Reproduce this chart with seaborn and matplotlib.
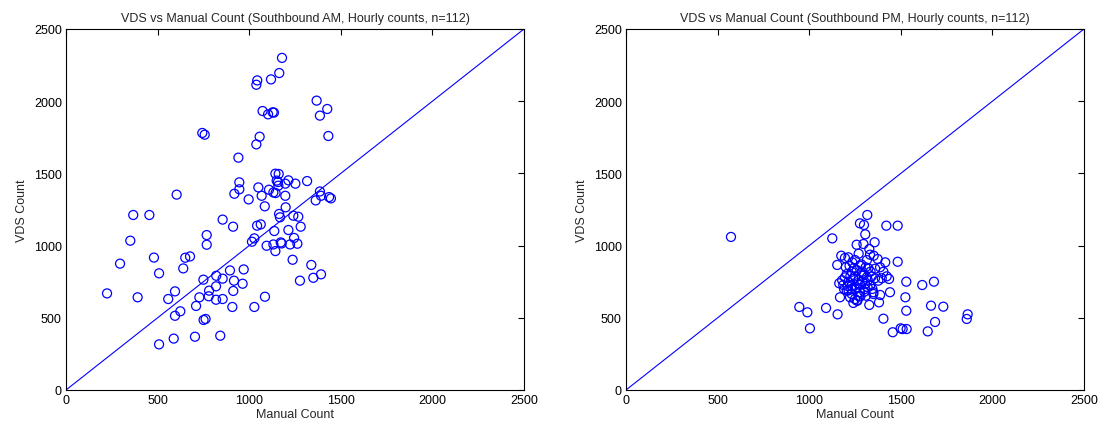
import matplotlib
matplotlib.use("Agg")
import matplotlib.pyplot as plt
import seaborn as sns
import pandas as pd

sns.set_theme(style="white")
plt.rcParams['font.family'] = ['Liberation Sans', 'DejaVu Sans']

titles = ["VDS vs Manual Count (Southbound AM, Hourly counts, n=112)",
          "VDS vs Manual Count (Southbound PM, Hourly counts, n=112)"]
xlabel = "Manual Count"
ylabel = "VDS Count"
ticks = [0, 500, 1000, 1500, 2000, 2500]
diag = [0, 2500]

am_manual = [1179, 1164, 1119, 1044, 1039, 1073, 1103, 1128, 1135, 744, 757, 1057, 1039, 941,
             1143, 1161, 946, 919, 946, 1050, 1068, 997, 1085, 604, 367, 455, 855, 1108, 1132,
             1144, 1157, 1159, 1197, 1197, 1214, 1252, 1316, 1199, 1163, 1168, 1241, 1268, 1281,
             1368, 1426, 1386, 1432, 1386, 1363, 1392, 1436, 1446, 351, 295, 480, 508, 224, 391,
             640, 651, 677, 558, 595, 595, 624, 508, 588, 704, 842, 751, 762, 710, 728, 779, 781,
             819, 819, 855, 750, 820, 855, 895, 917, 913, 964, 970, 908, 1028, 1086, 768, 768,
             912, 1015, 1028, 1043, 1063, 1137, 1095, 1132, 1143, 1172, 1177, 1223, 1263, 1237,
             1277, 1245, 1214, 1339, 1350, 1392, 1150]
am_vds = [2300, 2195, 2151, 2144, 2114, 1932, 1909, 1923, 1921, 1780, 1768, 1754, 1701, 1609,
          1498, 1496, 1438, 1359, 1390, 1403, 1345, 1320, 1272, 1353, 1212, 1212, 1180, 1387, 1368,
          1364, 1440, 1415, 1345, 1429, 1452, 1429, 1447, 1265, 1219, 1196, 1207, 1200, 1131,
          2004, 1946, 1900, 1759, 1375, 1313, 1345, 1336, 1327, 1034, 875, 917, 808, 669, 642,
          842, 916, 925, 630, 683, 514, 545, 316, 356, 369, 376, 485, 492, 582, 642, 649, 688,
          625, 718, 630, 764, 791, 771, 828, 757, 686, 736, 835, 575, 575, 646, 1073, 1006,
          1131, 1027, 1050, 1138, 1147, 1101, 999, 1008, 962, 1022, 1015, 1008, 1013, 902,
          757, 1053, 1108, 866, 777, 801, 1450]

pm_manual = [1317, 1277, 1299, 1421, 1483, 1306, 1126, 1259, 1296, 1357, 1270, 1328, 1332, 1352,
             1374, 1175, 1195, 1214, 1153, 1235, 1277, 1308, 1323, 1415, 1483, 1387, 1405, 1423,
             1436, 1205, 1232, 1250, 1287, 1314, 1341, 1359, 1377, 1396, 1164, 1186, 1214, 1232,
             1259, 1277, 1305, 1332, 1205, 1232, 1250, 1277, 1305, 1319, 1350, 1387, 1223, 1250,
             1272, 1310, 1350, 1241, 1263, 1168, 1328, 1381, 1441, 1530, 1617, 1681, 1525, 1530,
             1665, 1732, 946, 990, 1092, 1155, 1004, 1405, 1456, 1499, 1510, 1532, 1647, 1687,
             1865, 1860, 573,
             1220, 1245, 1260, 1290, 1300, 1270, 1240, 1225, 1195, 1180, 1190, 1215, 1265, 1290,
             1320, 1335, 1360, 1345, 1300, 1280, 1260, 1230, 1210, 1285, 1315, 1250, 1200]
pm_vds = [1212, 1154, 1143, 1138, 1138, 1078, 1050, 1006, 1011, 1023, 944, 976, 937, 930,
          907, 930, 914, 919, 866, 884, 861, 850, 843, 884, 888, 850, 819, 787,
          769, 803, 819, 787, 792, 780, 787, 774, 757, 774, 739, 727, 750, 722,
          711, 727, 734, 722, 688, 665, 699, 677, 699, 711, 677, 658, 642, 630,
          649, 653, 665, 603, 618, 642, 589, 607, 677, 750, 727, 750, 642, 549,
          584, 577, 575, 538, 568, 524, 427, 494, 400, 427, 422, 422, 406, 471,
          524, 492, 1060,
          860, 845, 830, 820, 800, 760, 770, 790, 780, 760, 700, 690, 740, 750,
          760, 820, 840, 700, 680, 650, 620, 700, 720, 870, 900, 900, 850]

am = pd.DataFrame({"manual": am_manual, "vds": am_vds})
pm = pd.DataFrame({"manual": pm_manual, "vds": pm_vds})
diag_df = pd.DataFrame({"x": diag, "y": diag})

fig = plt.figure(figsize=(11.04, 4.31), dpi=100)
ax1 = fig.add_axes([66/1104, 1 - 391/431, 458/1104, 361/431])
ax2 = fig.add_axes([626/1104, 1 - 391/431, 458/1104, 361/431])

blue = (0, 0, 1)
for ax, df, title in [(ax1, am, titles[0]), (ax2, pm, titles[1])]:
    sns.scatterplot(data=df, x="manual", y="vds", ax=ax, marker="o", s=42,
                    facecolor="none", edgecolor=blue, linewidth=0.9, zorder=3)
    sns.lineplot(data=diag_df, x="x", y="y", ax=ax, color=blue, linewidth=0.8,
                 estimator=None, sort=False)
    ax.set_xlim(0, 2500)
    ax.set_ylim(0, 2500)
    ax.set_xticks(ticks)
    ax.set_yticks(ticks)
    ax.tick_params(direction="in", length=4, width=0.8, top=True, right=True,
                   labelsize=9, colors="black", pad=3)
    for sp in ax.spines.values():
        sp.set_visible(True)
        sp.set_color("black")
        sp.set_linewidth(0.8)
    ax.set_title(title, fontsize=9, pad=6)
    ax.set_xlabel(xlabel, fontsize=9, labelpad=1)
    ax.set_ylabel(ylabel, fontsize=9, labelpad=4)
    ax.grid(False)
    ax.set_facecolor("white")

fig.savefig("out.png", dpi=100, facecolor="white")
